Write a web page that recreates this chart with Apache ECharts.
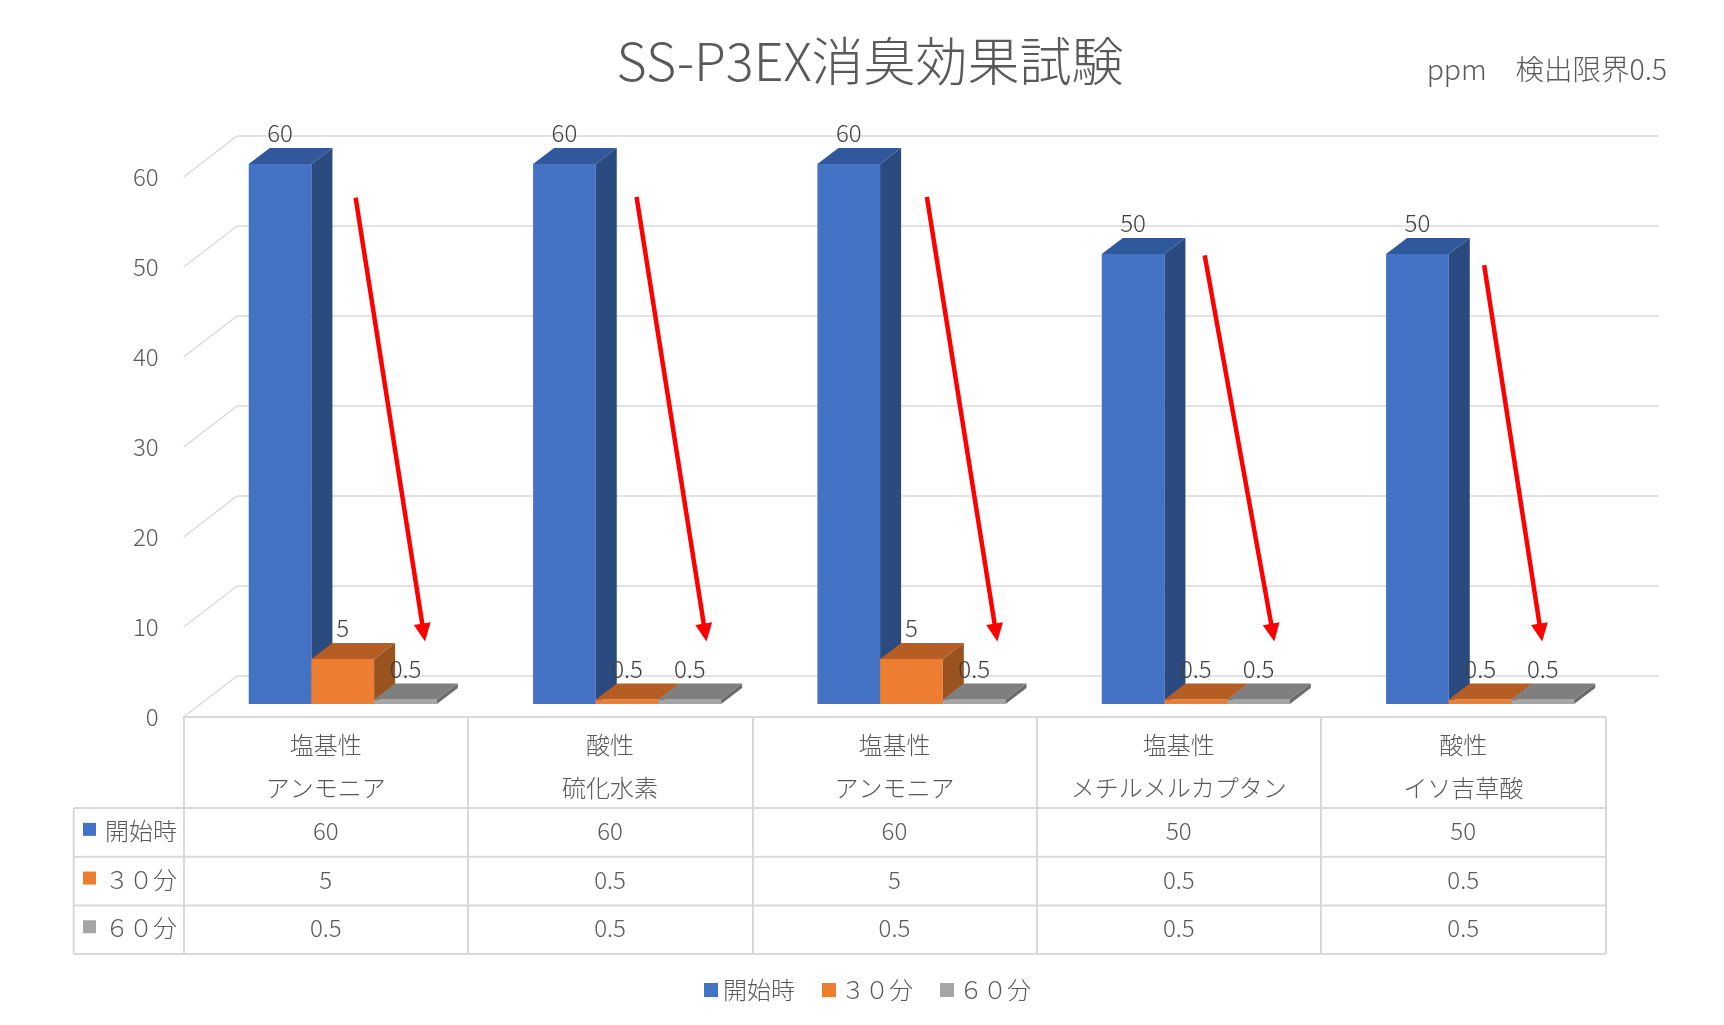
<!DOCTYPE html>
<html><head><meta charset="utf-8">
<script src="https://cdn.jsdelivr.net/npm/echarts@6/dist/echarts.min.js"></script>
<style>html,body{margin:0;padding:0;background:#fff}#c{width:1724px;height:1025px}</style>
</head><body><div id="c"></div>
<script>
// ---- data ----
const categories = ['塩基性\nアンモニア', '酸性\n硫化水素', '塩基性\nアンモニア', '塩基性\nメチルメルカプタン', '酸性\nイソ吉草酸'];
const seriesNames = ['開始時', '３０分', '６０分'];
const startValues = [60, 60, 60, 50, 50];
const min30Values = [5, 0.5, 5, 0.5, 0.5];
const min60Values = [0.5, 0.5, 0.5, 0.5, 0.5];
const yTicks = [0, 10, 20, 30, 40, 50, 60];
const titleText = 'SS-P3EX消臭効果試験';
const noteText = 'ppm　検出限界0.5';
// arrows: [category index, start offset (band fraction), start value, end offset, end value]
const arrows = [
  [0, 0.105, 57.7, 0.349, 8.4],
  [1, 0.093, 57.8, 0.339, 8.4],
  [2, 0.114, 57.8, 0.362, 8.4],
  [3, 0.091, 51.3, 0.336, 8.4],
  [4, 0.074, 50.2, 0.278, 8.4]
];

// ---- styles / layout ----
const FONT = "'Noto Sans CJK JP', 'Noto Sans', sans-serif";
const TXT = '#595959';
const LBL = '#404040';
const LINE = '#D9D9D9';
const frontColors = ['#4472C4', '#ED7D31', '#A5A5A5'];
const topColors = ['#30599B', '#B55D22', '#7F7F7F'];
const sideColors = ['#2B4A80', '#9A521F', '#6B6B6B'];
const WALL_DX = 53.5, WALL_DY = -41;
const FX = 17, FY = -13, BDX = 21, BDY = -16;
const BAR_FRAC = 0.2205;
const GRID = {left: 183.6, right: 118.7, top: 177, bottom: 308};
const TABLE_TOP = 717, CAT_ROW_H = 91, ROW_H = 48.7;
const TABLE_LEFT = 73.7, TABLE_RIGHT = 1605.3;
const rowCenter = k => TABLE_TOP + CAT_ROW_H + ROW_H * k + ROW_H / 2 - 1.5;
const valueSets = [startValues, min30Values, min60Values];

const chart = echarts.init(document.getElementById('c'));

function barSeries(k) {
  return {
    type: 'custom',
    name: seriesNames[k],
    itemStyle: {color: frontColors[k]},
    encode: {x: 0, y: 1},
    data: valueSets[k].map((v, i) => [i, v]),
    z: 3,
    renderItem: function (params, api) {
      const ci = api.value(0), v = api.value(1);
      const top = api.coord([ci, v]);
      const base = api.coord([ci, 0]);
      const band = api.size([1, 0])[0];
      const bw = band * BAR_FRAC;
      const cx = top[0] + (k - 1) * bw + FX;
      const l = cx - bw / 2, r = cx + bw / 2;
      const ty = top[1] + FY, by = base[1] + FY;
      return {
        type: 'group',
        children: [
          {type: 'rect', shape: {x: l, y: ty, width: bw, height: by - ty}, style: {fill: frontColors[k]}},
          {type: 'polygon', shape: {points: [[r, ty], [r + BDX, ty + BDY], [r + BDX, by + BDY], [r, by]]}, style: {fill: sideColors[k]}},
          {type: 'polygon', shape: {points: [[l, ty], [l + BDX, ty + BDY], [r + BDX, ty + BDY], [r, ty]]}, style: {fill: topColors[k]}},
          {type: 'text', style: {text: String(v), x: cx, y: ty + BDY - 15, align: 'center', verticalAlign: 'middle', fill: LBL, font: '300 24px ' + FONT}},
          {type: 'text', style: {text: String(v), x: top[0], y: rowCenter(k), align: 'center', verticalAlign: 'middle', fill: TXT, font: '300 24px ' + FONT}}
        ]
      };
    }
  };
}

const graphics = [
  {type: 'text', style: {text: titleText, x: 870, y: 61, align: 'center', verticalAlign: 'middle', fill: TXT, font: '300 52px ' + FONT}},
  {type: 'text', style: {text: noteText, x: 1667, y: 69, align: 'right', verticalAlign: 'middle', fill: TXT, font: '300 28.5px ' + FONT}}
];
// table horizontal lines and left border
for (let k = 0; k <= 3; k++) {
  const y = TABLE_TOP + CAT_ROW_H + ROW_H * k;
  graphics.push({type: 'line', shape: {x1: TABLE_LEFT, y1: y, x2: TABLE_RIGHT, y2: y}, style: {stroke: LINE, lineWidth: 2}});
}
graphics.push({type: 'line', shape: {x1: TABLE_LEFT, y1: TABLE_TOP + CAT_ROW_H, x2: TABLE_LEFT, y2: TABLE_TOP + CAT_ROW_H + ROW_H * 3}, style: {stroke: LINE, lineWidth: 2}});
// row headers
for (let k = 0; k < 3; k++) {
  const cy = rowCenter(k);
  graphics.push({type: 'rect', shape: {x: 83, y: cy - 8, width: 13, height: 13}, style: {fill: frontColors[k]}});
  graphics.push({type: 'text', style: {text: seriesNames[k], x: 105, y: cy, align: 'left', verticalAlign: 'middle', fill: TXT, font: '300 24px ' + FONT}});
}

const option = {
  animation: false,
  backgroundColor: '#fff',
  textStyle: {fontFamily: FONT},
  grid: {left: GRID.left, right: GRID.right, top: GRID.top, bottom: GRID.bottom, containLabel: false},
  legend: {
    data: seriesNames,
    left: 699, top: 973,
    icon: 'rect', itemWidth: 14, itemHeight: 14, itemGap: 27,
    textStyle: {fontSize: 24, color: TXT, fontWeight: 300, fontFamily: FONT},
    selectedMode: false
  },
  xAxis: {
    type: 'category', data: categories, boundaryGap: true,
    axisLine: {show: true, lineStyle: {color: LINE, width: 2}},
    axisTick: {show: true, interval: 0, length: TABLE_TOP + CAT_ROW_H + ROW_H * 3 - TABLE_TOP, lineStyle: {color: LINE, width: 2}},
    axisLabel: {interval: 0, fontSize: 24, color: TXT, fontWeight: 300, lineHeight: 43, margin: 6}
  },
  yAxis: {
    type: 'value', min: 0, max: 60, interval: 10,
    axisLine: {show: false}, axisTick: {show: false}, splitLine: {show: false},
    axisLabel: {fontSize: 24, color: TXT, fontWeight: 300, margin: 25}
  },
  graphic: graphics,
  series: [
    {
      type: 'custom', name: 'wall', silent: true, z: 1,
      encode: {x: 0, y: 1},
      data: yTicks.map(v => [0, v]),
      renderItem: function (params, api) {
        const p = api.coord([0, api.value(1)]);
        const cs = params.coordSys;
        const x0 = cs.x;
        return {
          type: 'group',
          children: [
            {type: 'line', shape: {x1: x0, y1: p[1], x2: x0 + WALL_DX, y2: p[1] + WALL_DY}, style: {stroke: LINE, lineWidth: 1.5}},
            {type: 'line', shape: {x1: x0 + WALL_DX, y1: p[1] + WALL_DY, x2: x0 + cs.width + WALL_DX, y2: p[1] + WALL_DY}, style: {stroke: LINE, lineWidth: 1.5}}
          ]
        };
      }
    },
    barSeries(0), barSeries(1), barSeries(2),
    {
      type: 'custom', name: 'arrows', silent: true, z: 5,
      encode: {x: 0, y: 2},
      data: arrows,
      renderItem: function (params, api) {
        const ci = api.value(0);
        const c = api.coord([ci, 0])[0];
        const band = api.size([1, 0])[0];
        const sx = c + api.value(1) * band, sy = api.coord([ci, api.value(2)])[1];
        const ex = c + api.value(3) * band, ey = api.coord([ci, api.value(4)])[1];
        const len = Math.hypot(ex - sx, ey - sy);
        const ux = (ex - sx) / len, uy = (ey - sy) / len;
        const HL = 18, HW = 8.5;
        const bx = ex - ux * HL, by = ey - uy * HL;
        const px = -uy, py = ux;
        return {
          type: 'group',
          children: [
            {type: 'line', shape: {x1: sx, y1: sy, x2: bx + ux * 2, y2: by + uy * 2}, style: {stroke: '#FF0000', lineWidth: 4.5}},
            {type: 'polygon', shape: {points: [[ex, ey], [bx + px * HW, by + py * HW], [bx - px * HW, by - py * HW]]}, style: {fill: '#FF0000'}}
          ]
        };
      }
    }
  ]
};
chart.setOption(option);
</script></body></html>
